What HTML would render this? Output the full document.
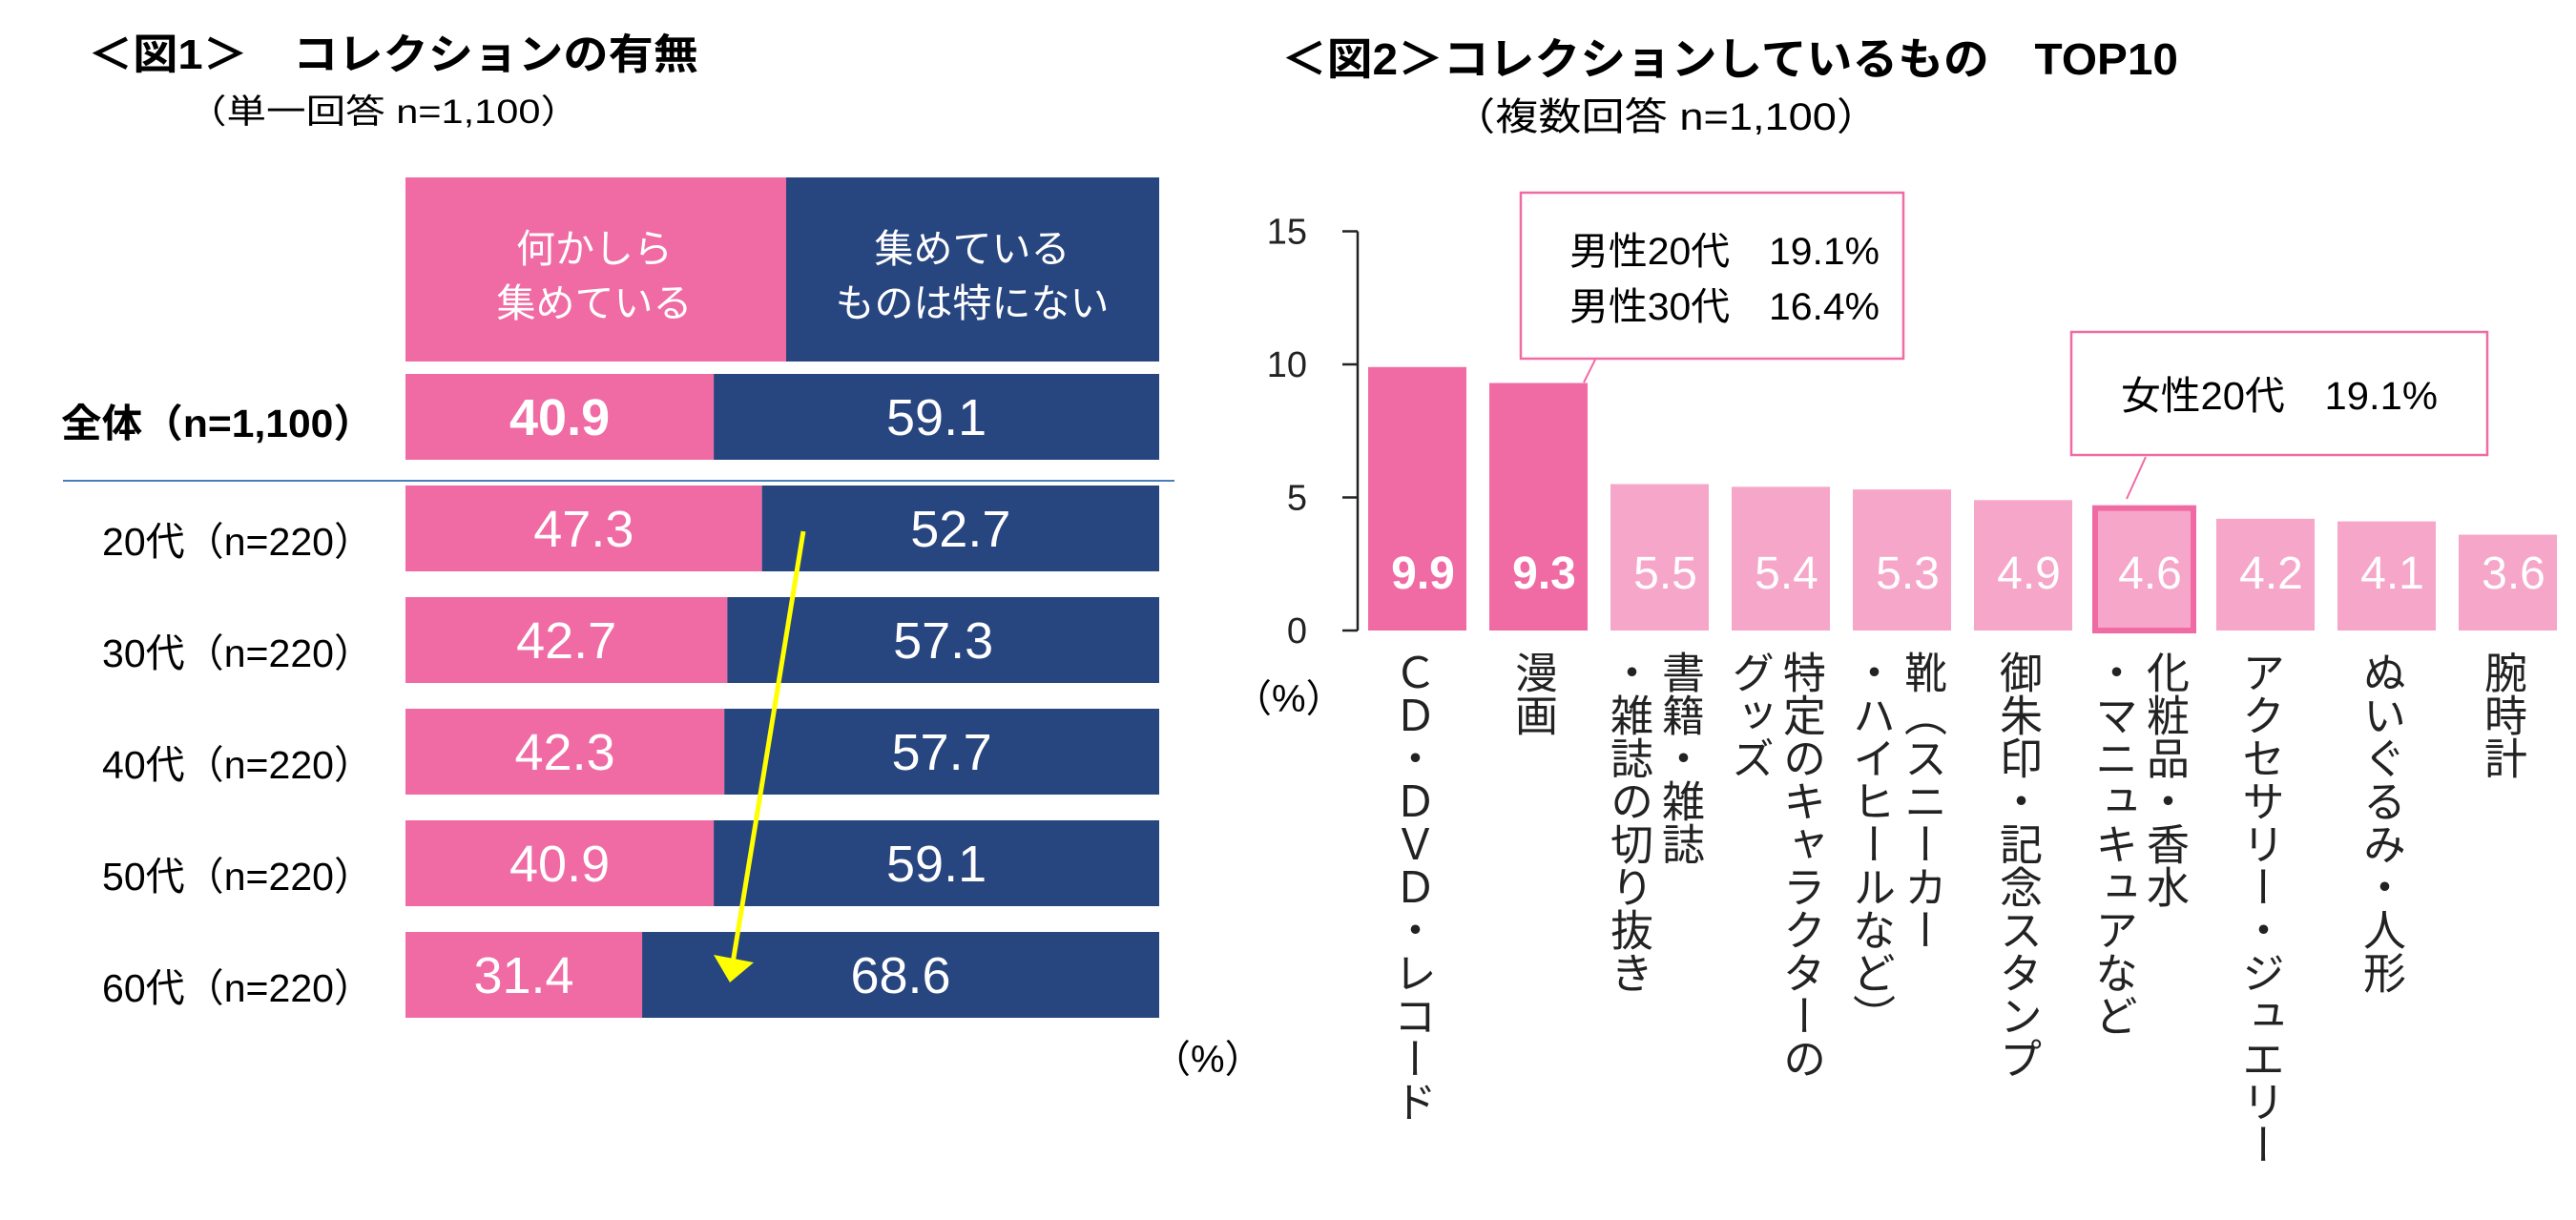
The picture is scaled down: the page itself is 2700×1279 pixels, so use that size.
<!DOCTYPE html>
<html><head><meta charset="utf-8">
<style>
html,body{margin:0;padding:0;background:#fff;}
svg{display:block;font-family:"Liberation Sans","Noto Sans CJK JP",sans-serif;}
</style></head>
<body>
<svg id="chart" width="2700" height="1279" viewBox="0 0 2700 1279" xmlns="http://www.w3.org/2000/svg">
<rect width="2700" height="1279" fill="#fff"/>
<!-- Figure 1 titles -->
<text x="92" y="72" font-size="44" font-weight="bold" textLength="640" lengthAdjust="spacingAndGlyphs">＜図1＞　コレクションの有無</text>
<text x="196" y="129" font-size="35" textLength="412" lengthAdjust="spacingAndGlyphs">（単一回答 n=1,100）</text>
<!-- header boxes -->
<rect x="425" y="186" width="399" height="193" fill="#F06BA4"/>
<rect x="824" y="186" width="391" height="193" fill="#27457F"/>
<g fill="#fff" font-size="41" text-anchor="middle">
<text x="623" y="275">何かしら</text><text x="623" y="332">集めている</text>
<text x="1019" y="275">集めている</text><text x="1019" y="332">ものは特にない</text>
</g>
<line x1="66" y1="504" x2="1231" y2="504" stroke="#4A7EBB" stroke-width="2"/>
<g id="fig1"></g>
<text x="1208" y="1124" font-size="40">（%）</text>
<!-- yellow arrow -->
<g>
<line x1="842" y1="557" x2="768" y2="1010" stroke="#FFFF00" stroke-width="5"/>
<polygon points="748,1001 790,1009 765,1030" fill="#FFFF00"/>
</g>

<!-- Figure 2 titles -->
<text x="1343" y="78" font-size="46" font-weight="bold" textLength="940" lengthAdjust="spacingAndGlyphs">＜図2＞コレクションしているもの　TOP10</text>
<text x="1522" y="136" font-size="40" textLength="448" lengthAdjust="spacingAndGlyphs">（複数回答 n=1,100）</text>
<g id="fig2"></g>
<text x="1293" y="746" font-size="40">（%）</text>
<!-- callouts -->
<g>
<line x1="1672" y1="377" x2="1660" y2="401" stroke="#F06BA4" stroke-width="2"/>
<rect x="1594" y="202" width="401" height="174" fill="#fff" stroke="#F06BA4" stroke-width="2.5"/>
<text x="1645" y="277" font-size="40" textLength="325" lengthAdjust="spacingAndGlyphs">男性20代　19.1%</text>
<text x="1645" y="335" font-size="40" textLength="325" lengthAdjust="spacingAndGlyphs">男性30代　16.4%</text>
</g>
<g>
<line x1="2249" y1="479" x2="2229" y2="523" stroke="#F06BA4" stroke-width="2"/>
<rect x="2171" y="348" width="436" height="129" fill="#fff" stroke="#F06BA4" stroke-width="2.5"/>
<text x="2223" y="429" font-size="41" textLength="332" lengthAdjust="spacingAndGlyphs">女性20代　19.1%</text>
</g>
</svg>
<script>
// ---- Figure 1 data ----
const rowLabels = ["全体（n=1,100）","20代（n=220）","30代（n=220）","40代（n=220）","50代（n=220）","60代（n=220）"];
const collectVals = [40.9, 47.3, 42.7, 42.3, 40.9, 31.4];
const notCollectVals = [59.1, 52.7, 57.3, 57.7, 59.1, 68.6];
// ---- Figure 2 data ----
const categories = [["ＣＤ・ＤＶＤ・レコード"],["漫画"],["書籍・雑誌","・雑誌の切り抜き"],["特定のキャラクターの","グッズ"],["靴（スニーカー","・ハイヒールなど）"],["御朱印・記念スタンプ"],["化粧品・香水","・マニュキュアなど"],["アクセサリー・ジュエリー"],["ぬいぐるみ・人形"],["腕時計"]];
const shareVals = [9.9, 9.3, 5.5, 5.4, 5.3, 4.9, 4.6, 4.2, 4.1, 3.6];
const yTicks = [0, 5, 10, 15];

const NS = "http://www.w3.org/2000/svg";
function mk(tag, attrs, parent){const e=document.createElementNS(NS,tag);for(const k in attrs)e.setAttribute(k,attrs[k]);parent.appendChild(e);return e;}

// Figure 1
const g1 = document.getElementById("fig1");
const x0 = 425, fullW = 790;
const xs = v => v/100*fullW;
function rowY(i){return i===0 ? 392 : 509 + (i-1)*117;}
const rowH = 90;
rowLabels.forEach((lab,i)=>{
  const y = rowY(i);
  const w1 = xs(collectVals[i]);
  const w2 = xs(notCollectVals[i]);
  const r1 = mk("rect",{x:x0,y:y,width:w1,height:rowH,fill:"#F06BA4"},g1);
  
  
  const r2 = mk("rect",{x:x0+w1,y:y,width:w2,height:rowH,fill:"#27457F"},g1);
  
  
  const bold = i===0;
  const t1 = mk("text",{x:x0+w1/2,y:y+rowH/2+19,"font-size":54,fill:"#fff","text-anchor":"middle","font-weight":bold?"bold":"normal"},g1);
  t1.textContent = collectVals[i].toFixed(1);
  
  
  const t2 = mk("text",{x:x0+w1+w2/2,y:y+rowH/2+19,"font-size":54,fill:"#fff","text-anchor":"middle"},g1);
  t2.textContent = notCollectVals[i].toFixed(1);
  
  
  const tl = mk("text",{x:bold?64:107,y:y+rowH/2+(bold?21:28),"font-size":41,fill:"#000","font-weight":bold?"bold":"normal",textLength:bold?328:284,lengthAdjust:"spacingAndGlyphs"},g1);
  tl.textContent = lab;
  
  
});

// Figure 2
const g2 = document.getElementById("fig2");
const y0 = 661, unitH = 139.5/5;
const ys = v => y0 - v*unitH;
const bx0 = 1434, step = 127, bw = 103;
const axisX = 1423;
const ax = mk("line",{x1:axisX,y1:ys(15),x2:axisX,y2:ys(0),stroke:"#222","stroke-width":2.5},g2);


yTicks.forEach(t=>{
  const tk = mk("line",{x1:1407,y1:ys(t),x2:axisX,y2:ys(t),stroke:"#222","stroke-width":2.5},g2);
  
  
  const tt = mk("text",{x:1370,y:ys(t)+13,"font-size":38,"text-anchor":"end",fill:"#222"},g2);
  tt.textContent = t;
  
  
});
shareVals.forEach((v,i)=>{
  const x = bx0 + i*step;
  const dark = i<2;
  const b = mk("rect",{x:x,y:ys(v),width:bw,height:ys(0)-ys(v),fill:dark?"#F06BA4":"#F6A6C9"},g2);
  
  
  if(i===6){
    b.setAttribute("stroke","#F06BA4");
    b.setAttribute("stroke-width","6");
  }
  const t = mk("text",{x:x+bw/2+6,y:617,"font-size":48,fill:"#fff","text-anchor":"middle","font-weight":dark?"bold":"normal"},g2);
  t.textContent = v.toFixed(1);
  
  
  const lines = categories[i];
  const cx = x + bw/2 - 6;
  lines.forEach((ln,j)=>{
    const off = lines.length===1 ? 0 : (j===0 ? 27 : -27);
    const lt = mk("text",{x:cx+off,y:682,"font-size":45,fill:"#222"},g2);
    lt.style.writingMode = "vertical-rl";
    lt.style.textOrientation = "upright";
    lt.textContent = ln;
    
    
  });
});
</script>
</body></html>
